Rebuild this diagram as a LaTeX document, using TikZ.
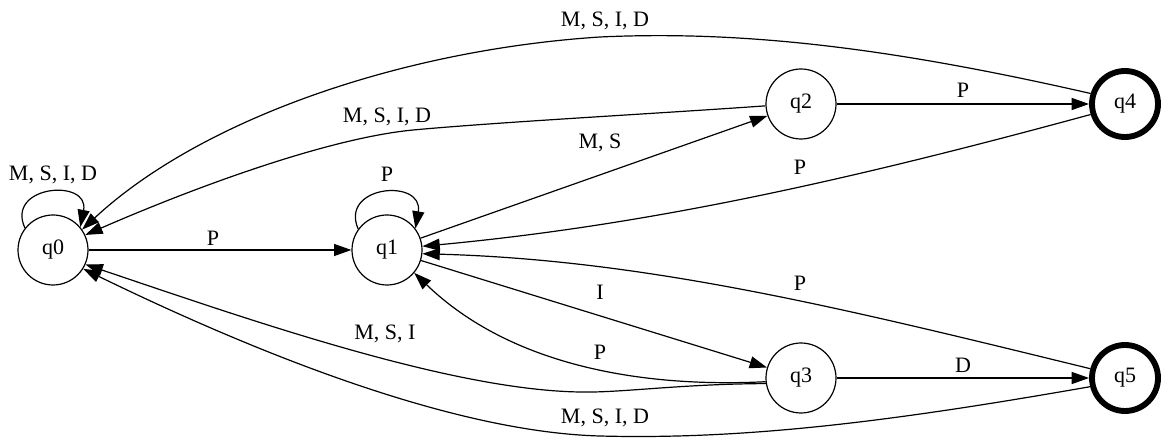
\documentclass[tikz,border=0pt]{standalone}
\usepackage{fontspec}
\setmainfont{Liberation Serif}
\usetikzlibrary{arrows.meta}

\begin{document}
\begin{tikzpicture}[x=0.75pt,y=0.75pt,
    st/.style={draw,circle,line width=0.9pt,minimum size=52.5pt,inner sep=0pt,font=\fontsize{16.5}{19}\selectfont},
    fin/.style={st,line width=4.4pt,minimum size=49.5pt},
    tr/.style={line width=0.9pt,-{Triangle[length=13pt,width=9pt]}},
    lbl/.style={font=\fontsize{16.5}{19}\selectfont}]
  \useasboundingbox (0,0) rectangle (1168,446);
  % states
  \node[st] (q0) at (53,196) {q0};
  \node[st] (q1) at (387,196) {q1};
  \node[st] (q2) at (801,342) {q2};
  \node[st] (q3) at (801,68) {q3};
  \node[fin] (q4) at (1125,342) {q4};
  \node[fin] (q5) at (1125,68) {q5};
  % loops
  \draw[tr] (q0.142) .. controls (5,261) and (90,268) .. (q0.40) node[lbl] at (53,271) {M, S, I, D};
  \draw[tr] (q1.144) .. controls (339,261) and (424,268) .. (q1.37) node[lbl] at (387,272) {P};
  % straight ones
  \draw[tr] (q0) -- (q1) node[lbl] at (213,208) {P};
  \draw[tr] (q1) -- (q2) node[lbl] at (600,303) {M, S};
  \draw[tr] (q2) -- (q4) node[lbl] at (963,356) {P};
  \draw[tr] (q1) -- (q3) node[lbl] at (600,154) {I};
  \draw[tr] (q3) -- (q5) node[lbl] at (963,81) {D};
  % back to q0
  \draw[tr] (q4.163) .. controls (900,396) and (750,416) .. (600,409)
    .. controls (400,396) and (200,326) .. (q0.35) node[lbl] at (605,425) {M, S, I, D};
  \draw[tr] (q2.183) .. controls (650,332) and (500,324) .. (413,316)
    .. controls (330,308) and (200,261) .. (q0.25) node[lbl] at (387,329) {M, S, I, D};
  \draw[tr] (q3.189) .. controls (680,62) and (620,53) .. (580,54)
    .. controls (450,56) and (250,126) .. (q0.-24) node[lbl] at (385,112) {M, S, I};
  \draw[tr] (q5.-166) .. controls (900,26) and (750,6) .. (600,10)
    .. controls (450,14) and (250,96) .. (q0.-32) node[lbl] at (605,28) {M, S, I, D};
  % back to q1
  \draw[tr] (q4.197) .. controls (850,266) and (650,221) .. (q1.6) node[lbl] at (800,279) {P};
  \draw[tr] (q5.165) .. controls (850,136) and (650,186) .. (q1.-6) node[lbl] at (800,163) {P};
  \draw[tr] (q3.186) .. controls (640,58) and (510,81) .. (q1.-40) node[lbl] at (600,94) {P};
\end{tikzpicture}
\end{document}
